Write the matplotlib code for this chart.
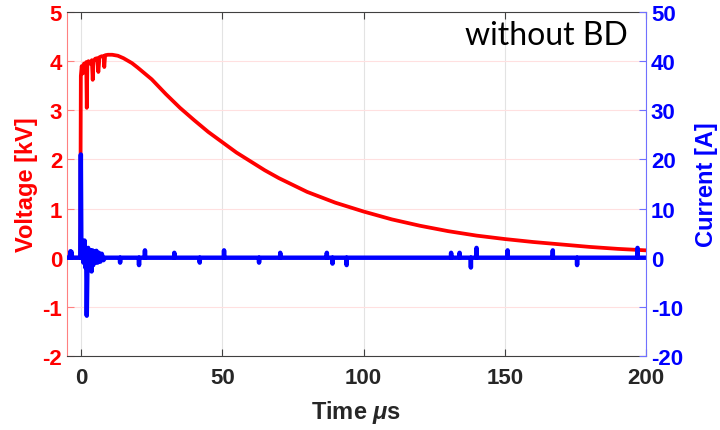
import numpy as np
import matplotlib
matplotlib.use('Agg')
import matplotlib.pyplot as plt

plt.rcParams['font.family'] = ['Liberation Sans', 'DejaVu Sans']
plt.rcParams['font.weight'] = 'bold'
plt.rcParams['axes.labelweight'] = 'bold'
plt.rcParams['axes.unicode_minus'] = False
plt.rcParams['mathtext.fontset'] = 'custom'
plt.rcParams['mathtext.it'] = 'Liberation Sans:italic'
plt.rcParams['mathtext.rm'] = 'Liberation Sans:bold'

# voltage trace (kV) vs time (us)
volt_t = [-5, -0.3, -0.1, 0.2, 0.6, 1.0, 1.5, 1.8, 2.0, 2.2, 2.6, 3.2, 3.8, 4.1, 4.4,
          5.0, 5.7, 6.1, 6.5, 7.3, 8.0, 8.2, 8.5, 9.5, 11, 13, 15, 18, 20, 25, 30, 35,
          40, 45, 50, 55, 60, 65, 70, 75, 80, 90, 100, 110, 120, 130, 140, 150, 160,
          170, 180, 190, 200]
volt_v = [0, 0, 3.7, 3.9, 3.75, 3.95, 3.92, 3.98, 3.05, 3.9, 4.0, 3.95, 4.02, 3.62, 4.0,
          4.05, 4.06, 3.78, 4.08, 4.1, 4.1, 3.88, 4.12, 4.13, 4.13, 4.11, 4.06, 3.96, 3.87,
          3.63, 3.33, 3.05, 2.8, 2.56, 2.35, 2.14, 1.96, 1.78, 1.62, 1.48, 1.34, 1.12, 0.94,
          0.78, 0.65, 0.54, 0.45, 0.38, 0.32, 0.27, 0.22, 0.18, 0.15]

# current trace (A): breakdown-free pulse, ringing right after switching
cur_t = [-5.0, -4.0, -3.8, -3.6, -3.4, -3.2, -0.3, -0.1, 0.1, 0.4, 0.8, 1.2, 1.5, 1.8,
         2.0, 2.2, 2.5, 2.9, 3.3, 3.7, 4.0, 4.3, 4.7, 5.0, 5.4, 5.8, 6.3, 6.8, 7.3, 7.9, 8.5]
cur_i = [0, 0, 1.3, 0, 1.2, 0, 0, 21, 0, 1.5, -1, 3.5, -2, 1,
         -11.8, -3, 2, -1, 1.5, -2.8, 1.5, -1.5, 1.2, -1, 1.4, -1, 1, -0.8, 0.8, -0.5, 0]

# isolated noise spikes on the current baseline
spike_t = [13.8, 20.5, 22.6, 33, 42, 50.6, 63, 70.5, 87, 89, 94, 131, 134, 138, 140,
           151, 167, 175.6, 197]
spike_i = [-1, -1.5, 1.5, 1, -1, 1.5, -1, 1, 1, -1.2, -1.5, 1, 1, -2, 2,
           1.5, 1.5, -1.5, 2]

tail_t, tail_i = [], []
for t, a in zip(spike_t, spike_i):
    tail_t += [t - 0.05, t, t + 0.05]
    tail_i += [0, a, 0]
i_t = np.array(cur_t + tail_t + [200])
i_v = np.array(cur_i + tail_i + [0])

fig = plt.figure(figsize=(7.2, 4.31), dpi=100)
ax1 = fig.add_axes([67/720, 1 - 357/431, 579/720, 344/431])
ax2 = ax1.twinx()

ax1.plot(volt_t, volt_v, color='red', lw=2.7)
ax2.plot(i_t, i_v, color='blue', lw=3.2)

ax1.set_xlim(-5, 200)
ax1.set_ylim(-2, 5)
ax2.set_ylim(-20, 50)
ax1.set_xticks([0, 50, 100, 150, 200])
ax1.set_yticks(range(-2, 6))
ax2.set_yticks(range(-20, 51, 10))

ax1.grid(axis='x', color='#e3e3e3', lw=0.8)
ax1.grid(axis='y', color='#ffe0e0', lw=0.8)
ax1.set_axisbelow(True)

ax1.tick_params(axis='x', direction='in', top=True, length=5, width=0.8,
                color='#404040', labelcolor='#262626', labelsize=16, pad=8)
ax1.tick_params(axis='y', direction='in', length=5, width=0.8,
                color='#ff8080', labelcolor='red', labelsize=16)
ax2.tick_params(axis='y', direction='in', length=5, width=0.8,
                color='#7070ff', labelcolor='blue', labelsize=16)

ax1.spines['left'].set_color('#ff8080')
ax1.spines['right'].set_visible(False)
ax1.spines['top'].set_color('#404040')
ax1.spines['bottom'].set_color('#404040')
ax2.spines['right'].set_color('#7070ff')
for s in ['left', 'top', 'bottom']:
    ax2.spines[s].set_visible(False)

ax1.set_xlabel(r'Time $\mu$s', fontsize=17, color='#262626', labelpad=7)
ax1.set_ylabel('Voltage [kV]', fontsize=17, color='red', labelpad=3)
ax2.set_ylabel('Current [A]', fontsize=17, color='blue', labelpad=9)

ax1.text(0.969, 0.907, 'without BD', transform=ax1.transAxes, ha='right', va='baseline',
         fontsize=23, fontweight='normal', family=['Lato', 'DejaVu Sans'], color='black')

fig.savefig('out.png', dpi=100)
